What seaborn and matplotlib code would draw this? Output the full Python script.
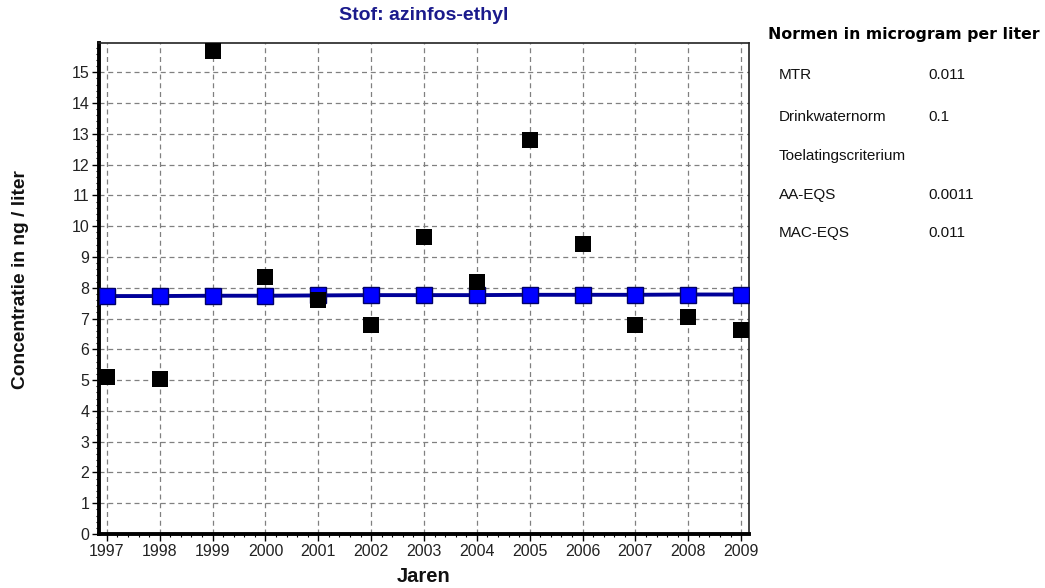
import pandas as pd
import matplotlib
matplotlib.use("Agg")
import matplotlib.pyplot as plt
from matplotlib.ticker import MultipleLocator, AutoMinorLocator
import seaborn as sns

# Data
years = [1997, 1998, 1999, 2000, 2001, 2002, 2003, 2004, 2005, 2006, 2007, 2008, 2009]
measured = [5.1, 5.05, 15.7, 8.35, 7.6, 6.8, 9.64, 8.18, 12.81, 9.43, 6.8, 7.06, 6.64]
trend = [7.73, 7.73, 7.74, 7.74, 7.75, 7.76, 7.76, 7.76, 7.77, 7.77, 7.77, 7.78, 7.78]

norm_names = ["MTR", "Drinkwaternorm", "Toelatingscriterium", "AA-EQS", "MAC-EQS"]
norm_values = ["0.011", "0.1", "", "0.0011", "0.011"]

df = pd.DataFrame({"jaar": years, "meting": measured, "trend": trend})


def main():
    sns.set_theme(style="white")
    plt.rcParams["font.family"] = ["Liberation Sans", "DejaVu Sans"]

    W, H = 1045, 588
    fig = plt.figure(figsize=(W / 100, H / 100), dpi=100)
    ax = fig.add_axes([99 / W, 1 - 534 / H, 650 / W, 491 / H])

    # trend line with blue square markers
    sns.lineplot(data=df, x="jaar", y="trend", ax=ax, color="#000099", linewidth=2.8,
                 marker="s", markersize=11, markerfacecolor="#0000ff",
                 markeredgecolor="#000066", markeredgewidth=1.0, zorder=3)
    # measurements
    sns.scatterplot(data=df, x="jaar", y="meting", ax=ax, color="black", marker="s",
                    s=130, edgecolor="black", linewidth=0, zorder=4)

    ax.set_xlim(1996.85, 2009.15)
    ax.set_ylim(0, 15.95)
    ax.xaxis.set_major_locator(MultipleLocator(1))
    ax.yaxis.set_major_locator(MultipleLocator(1))
    ax.xaxis.set_minor_locator(AutoMinorLocator(5))
    ax.yaxis.set_minor_locator(AutoMinorLocator(5))
    ax.set_xticks(years)
    ax.set_yticks(range(0, 16))

    ax.grid(True, which="major", linestyle=(0, (4, 3)), color="#808080", linewidth=0.9)
    ax.set_axisbelow(True)

    for side in ["top", "right"]:
        ax.spines[side].set_color("#222222")
        ax.spines[side].set_linewidth(1.2)
    for side in ["left", "bottom"]:
        ax.spines[side].set_color("black")
        ax.spines[side].set_linewidth(2.8)

    ax.tick_params(which="major", direction="out", length=5, width=1, color="black",
                   labelsize=11.5, labelcolor="#222222", pad=2,
                   left=True, bottom=True)
    ax.tick_params(which="minor", direction="out", length=2.5, width=0.8, color="black",
                   left=True, bottom=True)
    ax.set_xlabel("")
    ax.set_ylabel("")

    fig.text(424 / W, 1 - 15 / H, "Stof: azinfos-ethyl", fontsize=14, fontweight="bold",
             color="#1a1a8c", ha="center", va="center")
    fig.text(424 / W, 1 - 576 / H, "Jaren", fontsize=14.5, fontweight="bold",
             color="#111111", ha="center", va="center")
    fig.text(21 / W, 1 - 280 / H, "Concentratie in ng / liter", fontsize=13.8,
             fontweight="bold", color="#111111", ha="center", va="center", rotation=90)

    # norms panel on the right
    fig.text(768 / W, 1 - 34 / H, "Normen in microgram per liter", fontsize=11.3,
             fontweight="bold", color="black", va="center", ha="left",
             family=["DejaVu Sans"])
    row_y = [75, 117, 156, 195, 233]
    for name, val, yy in zip(norm_names, norm_values, row_y):
        fig.text(779 / W, 1 - yy / H, name, fontsize=11, color="#111111",
                 va="center", ha="left")
        if val:
            fig.text(928 / W, 1 - yy / H, val, fontsize=11, color="#111111",
                     va="center", ha="left")

    fig.savefig("out.png", dpi=100)
    plt.close(fig)


if __name__ == "__main__":
    main()
